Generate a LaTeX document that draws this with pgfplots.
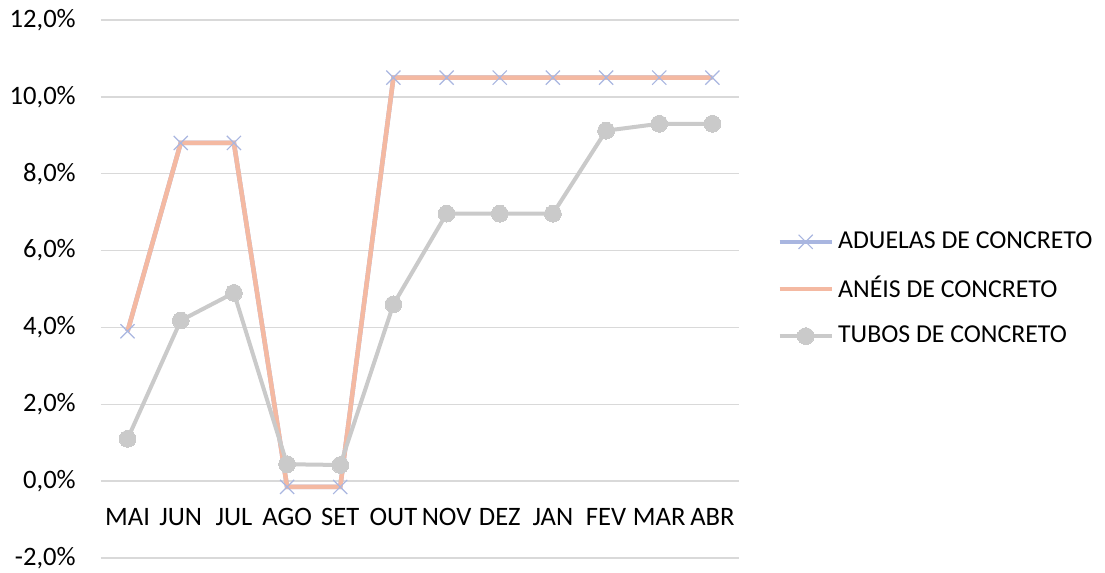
\documentclass[border=0pt]{standalone}
\usepackage{fontspec}
\setmainfont{Carlito}
\usepackage{pgfplots}
\pgfplotsset{compat=1.18}
\definecolor{aduelas}{HTML}{A9B6E0}
\definecolor{aneis}{HTML}{F4B9A2}
\definecolor{tubos}{HTML}{CACACA}
\definecolor{gridc}{HTML}{D9D9D9}

\begin{document}
\fontsize{13.3pt}{15pt}\selectfont
\begin{tikzpicture}
\path[use as bounding box] (-50.5pt,-7.5pt) rectangle (502pt,279pt);
\begin{axis}[
    at={(0,0)}, anchor=south west,
    scale only axis,
    width=319pt, height=269pt,
    xmin=0.5, xmax=12.5,
    ymin=-2, ymax=12,
    ytick={-2,0,...,12},
    xtick={1,...,12},
    xticklabels={MAI,JUN,JUL,AGO,SET,OUT,NOV,DEZ,JAN,FEV,MAR,ABR},
    axis line style={draw=none},
    major tick length=0pt,
    ymajorgrids,
    grid style={gridc, line width=0.75pt},
    /pgf/number format/assume math mode=true,
    yticklabel={\pgfmathprintnumber[fixed,fixed zerofill,precision=1,use comma]{\tick}\%},
    yticklabel style={xshift=-8pt},
    xticklabel style={anchor=north, yshift=29.5pt},
    tick label style={font=\fontsize{13.3pt}{15pt}\selectfont},
    legend style={at={(1.050,0.5)}, anchor=west, draw=none, fill=none,
        font=\fontsize{12.9pt}{15pt}\selectfont,
        row sep=8pt, cells={anchor=west}},
    legend cell align=left,
    legend image code/.code={
        \draw[mark repeat=2, mark phase=2, #1] plot coordinates {(0cm,0cm) (0.46cm,0cm) (0.92cm,0cm)};
    },
]
\addplot[aduelas, line width=2.25pt, mark=x, mark size=5pt,
    mark options={line width=0.6pt}] coordinates {
    (1,3.9) (2,8.8) (3,8.8) (4,-0.15) (5,-0.15) (6,10.5)
    (7,10.5) (8,10.5) (9,10.5) (10,10.5) (11,10.5) (12,10.5)
};
\addlegendentry{ADUELAS DE CONCRETO}
\addplot[aneis, line width=2.25pt, mark=none] coordinates {
    (1,3.9) (2,8.8) (3,8.8) (4,-0.15) (5,-0.15) (6,10.5)
    (7,10.5) (8,10.5) (9,10.5) (10,10.5) (11,10.5) (12,10.5)
};
\addlegendentry{ANÉIS DE CONCRETO}
\addplot[tubos, line width=2pt, mark=*, mark size=4.2pt,
    mark options={fill=tubos, draw=tubos, line width=0pt}] coordinates {
    (1,1.1) (2,4.18) (3,4.9) (4,0.44) (5,0.42) (6,4.6)
    (7,6.96) (8,6.96) (9,6.96) (10,9.12) (11,9.3) (12,9.3)
};
\addlegendentry{TUBOS DE CONCRETO}
\end{axis}
\end{tikzpicture}
\end{document}
